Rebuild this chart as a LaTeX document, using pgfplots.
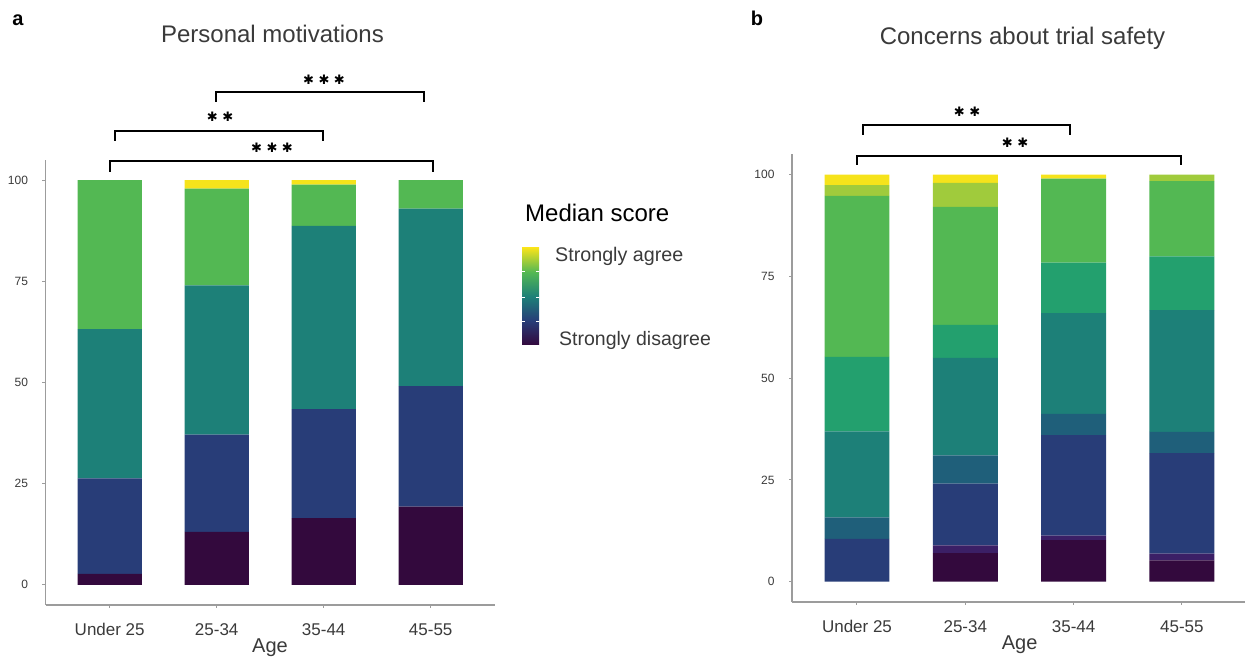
\documentclass[border=0pt]{standalone}
\usepackage{fontspec}
\setmainfont{Liberation Sans}
\newfontfamily\symfont{DejaVu Sans}
\usepackage{pgfplots}
\pgfplotsset{compat=1.18}

\definecolor{c1}{HTML}{33093D}
\definecolor{c2}{HTML}{3B1F66}
\definecolor{c3}{HTML}{283D78}
\definecolor{c4}{HTML}{1F5F7A}
\definecolor{c5}{HTML}{1D8078}
\definecolor{c6}{HTML}{23A06E}
\definecolor{c7}{HTML}{53B853}
\definecolor{c8}{HTML}{A0CB3C}
\definecolor{c9}{HTML}{F6E31B}
\definecolor{axgray}{HTML}{9C9C9C}
\definecolor{txtgray}{HTML}{3A3A3A}

\pgfdeclareverticalshading{vir}{100bp}{color(0bp)=(c1); color(25bp)=(c1); color(37.5bp)=(c3); color(50bp)=(c5); color(62.5bp)=(c7); color(75bp)=(c9); color(100bp)=(c9)}

\newcommand\stars[1]{{\symfont\fontsize{13bp}{15bp}\selectfont #1}}
\newcommand\sk{\kern4.5bp}

\pgfplotsset{
  panel/.style={
    scale only axis,
    ybar stacked, bar width=0.6,
    xmin=-0.6, xmax=3.6, ymin=-5, ymax=105,
    axis x line*=bottom, axis y line*=left,
    axis line style={axgray, line width=1.2bp},
    xtick={0,1,2,3}, xticklabels={Under 25,25-34,35-44,45-55},
    ytick={0,25,50,75,100},
    tick style={axgray, line width=1bp},
    tick align=outside, major tick length=3bp,
    /pgf/number format/assume math mode=true,
    yticklabel style={font=\fontsize{12bp}{14bp}\selectfont, text=txtgray, xshift=-11bp},
    xticklabel style={font=\fontsize{17bp}{20bp}\selectfont, text=txtgray, yshift=-12bp},
  }
}

\begin{document}
\begin{tikzpicture}
\useasboundingbox (0bp,0bp) rectangle (1245bp,659bp);

% ---------------- Panel a ----------------
\begin{axis}[panel, at={(45.5bp,54bp)}, anchor=south west, width=449.4bp, height=445bp]
\addplot[fill=c1, draw=none] coordinates {(0,2.7) (1,13.1) (2,16.5) (3,19.3)};
\addplot[fill=c3, draw=none] coordinates {(0,23.6) (1,24.0) (2,26.9) (3,29.8)};
\addplot[fill=c5, draw=none] coordinates {(0,36.9) (1,36.9) (2,45.3) (3,43.9)};
\addplot[fill=c7, draw=none] coordinates {(0,36.8) (1,23.9) (2,10.2) (3,7.0)};
\addplot[fill=c9, draw=none] coordinates {(0,0) (1,2.1) (2,1.1) (3,0)};
\end{axis}

% ---------------- Panel b ----------------
\begin{axis}[panel, at={(792bp,57bp)}, anchor=south west, width=454.9bp, height=447.7bp]
\addplot[fill=c1, draw=none] coordinates {(0,0) (1,7.0) (2,10.2) (3,5.2)};
\addplot[fill=c2, draw=none] coordinates {(0,0) (1,1.9) (2,1.1) (3,1.7)};
\addplot[fill=c3, draw=none] coordinates {(0,10.5) (1,15.2) (2,24.7) (3,24.7)};
\addplot[fill=c4, draw=none] coordinates {(0,5.3) (1,6.9) (2,5.2) (3,5.2)};
\addplot[fill=c5, draw=none] coordinates {(0,21.1) (1,24.0) (2,24.8) (3,29.9)};
\addplot[fill=c6, draw=none] coordinates {(0,18.3) (1,8.1) (2,12.4) (3,13.2)};
\addplot[fill=c7, draw=none] coordinates {(0,39.6) (1,29.0) (2,20.6) (3,18.5)};
\addplot[fill=c8, draw=none] coordinates {(0,2.6) (1,5.9) (2,0) (3,1.6)};
\addplot[fill=c9, draw=none] coordinates {(0,2.6) (1,2.0) (2,1.0) (3,0)};
\end{axis}

\begin{scope}[x=1bp,y=1bp]
% panel letters and titles
\node[font=\fontsize{20bp}{22bp}\selectfont\bfseries] at (18,639) {a};
\node[font=\fontsize{20bp}{22bp}\selectfont\bfseries] at (757,641) {b};
\node[anchor=base, font=\fontsize{24bp}{26bp}\selectfont, text=txtgray] at (272.5,616) {Personal motivations};
\node[anchor=base, font=\fontsize{24bp}{26bp}\selectfont, text=txtgray] at (1022.5,614) {Concerns about trial safety};

% x axis titles
\node[anchor=base, font=\fontsize{20bp}{22bp}\selectfont, text=txtgray] at (270,6.3) {Age};
\node[anchor=base, font=\fontsize{20bp}{22bp}\selectfont, text=txtgray] at (1019.7,10) {Age};

% legend
\node[anchor=base west, font=\fontsize{24bp}{26bp}\selectfont, inner sep=0pt] at (525,437.3) {Median score};
\shade[shading=vir] (522,314) rectangle (539,411);
\foreach \yy in {338,362,388} {
  \draw[white, line width=0.8bp] (522,\yy) -- (525,\yy);
  \draw[white, line width=0.8bp] (536,\yy) -- (539,\yy);
}
\node[anchor=base west, font=\fontsize{19.7bp}{22bp}\selectfont, inner sep=0pt, text=txtgray] at (555,397.3) {Strongly agree};
\node[anchor=base west, font=\fontsize{19.5bp}{22bp}\selectfont, inner sep=0pt, text=txtgray] at (559,314) {Strongly disagree};

% significance brackets, panel a
\draw[black, line width=2bp] (216,557) -- (216,567) -- (424,567) -- (424,557);
\node at (324,579) {\stars{✱\sk✱\sk✱}};
\draw[black, line width=2bp] (115,518) -- (115,528) -- (323,528) -- (323,518);
\node at (220,542) {\stars{✱\sk✱}};
\draw[black, line width=2bp] (110,487) -- (110,498) -- (433,498) -- (433,487);
\node at (272,511) {\stars{✱\sk✱\sk✱}};

% significance brackets, panel b
\draw[black, line width=2bp] (863,524) -- (863,534) -- (1070,534) -- (1070,524);
\node at (967,547) {\stars{✱\sk✱}};
\draw[black, line width=2bp] (857,494) -- (857,503) -- (1181,503) -- (1181,494);
\node at (1015,516) {\stars{✱\sk✱}};
\end{scope}
\end{tikzpicture}
\end{document}
